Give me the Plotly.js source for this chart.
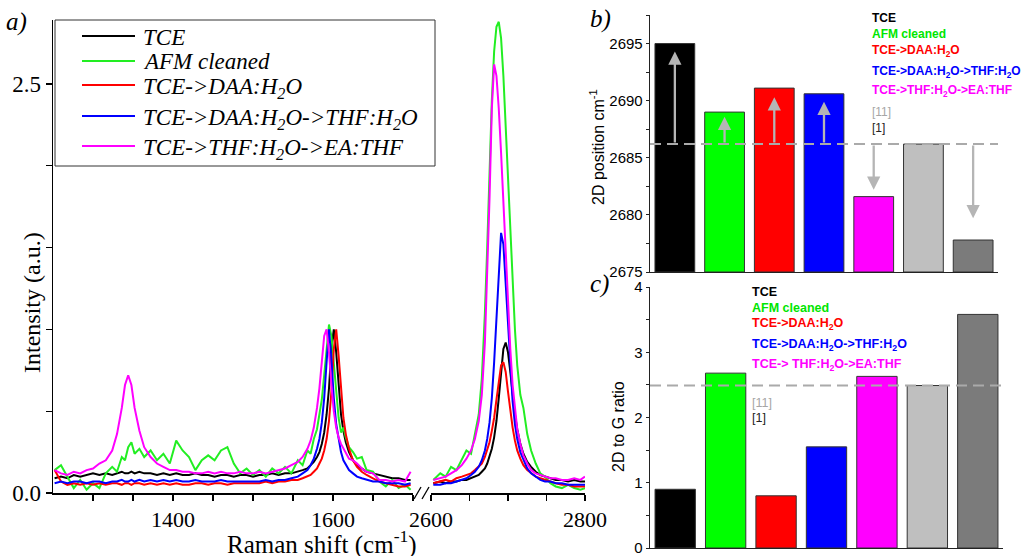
<!DOCTYPE html>
<html>
<head>
<meta charset="utf-8">
<script src="https://cdn.plot.ly/plotly-3.0.1.min.js"></script>
<style>html,body{margin:0;padding:0;background:#fff;}#chart{width:1027px;height:556px;}</style>
</head>
<body>
<div id="chart"></div>
<script>
// ---------------- DATA ----------------
const seriesNames = ['TCE', 'AFM cleaned', 'TCE->DAA:H<sub>2</sub>O',
  'TCE->DAA:H<sub>2</sub>O->THF:H<sub>2</sub>O', 'TCE->THF:H<sub>2</sub>O->EA:THF'];

// Raman shift, low range (D and G band region)
const shiftLow = [1252,1260,1268,1276,1284,1292,1300,1308,1316,1324,
  1330,1336,1340,1344,1348,1352,1358,1364,1372,1380,
  1388,1396,1404,1412,1420,1428,1436,1444,1452,1460,
  1468,1476,1484,1492,1500,1508,1516,1524,1532,1540,
  1548,1556,1562,1568,1572,1576,1580,1583,1586,1589,
  1592,1595,1598,1601,1604,1607,1610,1613,1616,1620,
  1625,1630,1636,1642,1650,1658,1666,1674,1682,1690,1697];

// Raman shift, high range (2D band region)
const shiftHigh = [2603,2612,2619,2626,2633,2640,2646,2652,2657,2662,
  2666,2670,2673,2676,2679,2682,2685,2688,2691,2694,
  2697,2700,2703,2706,2709,2712,2716,2720,2725,2730,
  2736,2742,2748,2755,2762,2770,2778,2786,2794,2800];

const tceLow = [0.09,0.10,0.09,0.11,0.10,0.11,0.12,0.11,0.12,0.11,
  0.12,0.13,0.12,0.12,0.13,0.12,0.13,0.12,0.12,0.11,
  0.12,0.11,0.12,0.11,0.11,0.12,0.11,0.11,0.10,0.11,
  0.11,0.10,0.11,0.11,0.10,0.11,0.11,0.12,0.11,0.12,
  0.12,0.13,0.14,0.15,0.17,0.19,0.22,0.25,0.30,0.37,
  0.48,0.64,0.88,1.00,0.86,0.64,0.48,0.38,0.31,0.25,
  0.20,0.17,0.15,0.13,0.12,0.11,0.10,0.09,0.09,0.08,0.08];
const tceHigh = [0.06,0.07,0.06,0.07,0.07,0.08,0.08,0.09,0.10,0.11,
  0.13,0.15,0.18,0.22,0.27,0.34,0.44,0.58,0.74,0.88,
  0.92,0.86,0.74,0.60,0.48,0.39,0.30,0.24,0.19,0.16,
  0.13,0.11,0.10,0.09,0.08,0.08,0.07,0.08,0.07,0.07];

const afmLow = [0.14,0.17,0.10,0.03,0.08,0.02,0.06,0.03,0.12,0.16,
  0.13,0.22,0.20,0.28,0.31,0.24,0.27,0.22,0.26,0.20,
  0.24,0.18,0.32,0.26,0.22,0.14,0.20,0.23,0.20,0.26,
  0.28,0.18,0.12,0.15,0.11,0.14,0.10,0.15,0.12,0.16,
  0.12,0.20,0.17,0.26,0.24,0.33,0.39,0.47,0.57,0.72,
  0.90,1.03,0.96,0.80,0.62,0.46,0.37,0.40,0.34,0.28,
  0.25,0.21,0.22,0.14,0.13,0.07,0.04,0.08,0.03,0.05,0.02];
const afmHigh = [0.08,0.12,0.10,0.16,0.14,0.20,0.26,0.24,0.36,0.48,
  0.70,1.10,1.50,1.95,2.40,2.70,2.85,2.88,2.78,2.55,
  2.25,1.90,1.58,1.30,1.00,0.78,0.60,0.52,0.36,0.26,
  0.18,0.12,0.10,0.06,0.04,0.03,0.05,0.03,0.02,0.03];

const daaLow = [0.14,0.07,0.05,0.06,0.05,0.06,0.05,0.06,0.05,0.06,
  0.06,0.05,0.06,0.06,0.05,0.06,0.06,0.05,0.06,0.05,
  0.06,0.05,0.06,0.05,0.05,0.06,0.06,0.05,0.06,0.06,
  0.05,0.06,0.06,0.06,0.06,0.06,0.07,0.06,0.07,0.07,
  0.08,0.08,0.09,0.10,0.11,0.13,0.15,0.18,0.21,0.26,
  0.33,0.44,0.62,0.88,1.00,0.84,0.62,0.46,0.36,0.27,
  0.20,0.16,0.13,0.11,0.09,0.07,0.06,0.05,0.04,0.04,0.05];
const daaHigh = [0.06,0.07,0.08,0.07,0.09,0.10,0.11,0.12,0.14,0.16,
  0.18,0.22,0.26,0.31,0.38,0.46,0.57,0.68,0.78,0.80,
  0.74,0.62,0.50,0.40,0.32,0.26,0.21,0.17,0.14,0.12,
  0.10,0.09,0.08,0.07,0.06,0.05,0.05,0.04,0.04,0.04];

const thfLow = [0.06,0.07,0.06,0.07,0.07,0.06,0.07,0.07,0.06,0.07,
  0.07,0.08,0.07,0.07,0.08,0.07,0.08,0.07,0.08,0.07,
  0.08,0.07,0.08,0.07,0.07,0.08,0.07,0.07,0.07,0.08,
  0.07,0.07,0.07,0.07,0.07,0.07,0.08,0.07,0.08,0.08,
  0.09,0.10,0.12,0.14,0.17,0.21,0.27,0.33,0.43,0.58,
  0.80,1.00,0.82,0.58,0.42,0.32,0.25,0.20,0.17,0.14,
  0.12,0.10,0.09,0.08,0.07,0.07,0.06,0.06,0.06,0.05,0.06];
const thfHigh = [0.05,0.05,0.06,0.06,0.07,0.08,0.09,0.11,0.13,0.16,
  0.20,0.26,0.33,0.43,0.58,0.80,1.08,1.40,1.59,1.52,
  1.28,0.98,0.74,0.56,0.42,0.33,0.25,0.20,0.15,0.12,
  0.10,0.08,0.07,0.07,0.06,0.06,0.05,0.05,0.05,0.05];

const eaLow = [0.14,0.12,0.11,0.13,0.12,0.14,0.15,0.18,0.20,0.26,
  0.36,0.52,0.66,0.72,0.66,0.52,0.38,0.28,0.22,0.18,
  0.16,0.14,0.14,0.13,0.13,0.12,0.12,0.13,0.12,0.13,
  0.12,0.12,0.13,0.12,0.12,0.13,0.12,0.13,0.14,0.15,
  0.17,0.19,0.22,0.27,0.32,0.40,0.52,0.64,0.80,0.96,
  1.00,0.86,0.66,0.50,0.40,0.34,0.30,0.27,0.24,0.21,
  0.20,0.18,0.15,0.13,0.12,0.08,0.08,0.07,0.08,0.07,0.13];
const eaHigh = [0.08,0.09,0.10,0.12,0.14,0.17,0.21,0.26,0.33,0.44,
  0.60,0.92,1.30,1.80,2.35,2.62,2.55,2.35,2.08,1.78,
  1.45,1.15,0.88,0.66,0.50,0.39,0.30,0.23,0.18,0.14,
  0.12,0.11,0.10,0.09,0.09,0.08,0.08,0.09,0.08,0.10];

const lowTicks = [1400, 1600];
const lowTickText = ['1400', '1600'];
const lowMinorTicks = [1300, 1350, 1450, 1500, 1550, 1650, 1700];
const highTicks = [2600, 2800];
const highTickText = ['2600', '2800'];
const highMinorTicks = [2650, 2700, 2750];
const intTicks = [0, 2.5];
const intTickText = ['0.0', '2.5'];
const intMinorTicks = [0.5, 1, 1.5, 2];

// Bar panels
const barLabels = ['TCE','AFM cleaned','TCE->DAA:H2O','TCE->DAA:H2O->THF:H2O','TCE->THF:H2O->EA:THF','[11]','[1]'];
const pos2D = [2695.0, 2689.0, 2691.1, 2690.6, 2681.6, 2686.2, 2677.8];
const ratio2DG = [0.90, 2.68, 0.80, 1.55, 2.63, 2.49, 3.58];
const refIndex = 5;
const posTicks = [2675, 2680, 2685, 2690, 2695];
const ratioTicks = [0, 1, 2, 3, 4];
const legendB = ['TCE','AFM cleaned','TCE->DAA:H<sub>2</sub>O','TCE->DAA:H<sub>2</sub>O->THF:H<sub>2</sub>O','TCE->THF:H<sub>2</sub>O->EA:THF','[11]','[1]'];
const legendC = ['TCE','AFM cleaned','TCE->DAA:H<sub>2</sub>O','TCE->DAA:H<sub>2</sub>O->THF:H<sub>2</sub>O','TCE-> THF:H<sub>2</sub>O->EA:THF','[11]','[1]'];

// ---------------- STYLE ----------------
const W = 1027, H = 556;
const px = v => v / W;
const py = v => 1 - v / H;
const lineColors = ['#000000', '#22ee22', '#ff0000', '#0000ff', '#ff00ff'];
const barColors = ['#000000', '#00ff00', '#ff0000', '#0000ff', '#ff00ff', '#bfbfbf', '#7b7b7b'];
const textColors = ['#000000', '#00e600', '#ff0000', '#0000ff', '#ff00ff', '#a6a6a6', '#222222'];
const serif = 'Liberation Serif, Times New Roman, serif';
const sans = 'Liberation Sans, Arial, sans-serif';

const lowSets = [tceLow, afmLow, daaLow, thfLow, eaLow];
const highSets = [tceHigh, afmHigh, daaHigh, thfHigh, eaHigh];

const traces = [];
[0,1,2,3,4].forEach(i => {
  traces.push({
    type: 'scatter', mode: 'lines', x: shiftLow, y: lowSets[i],
    xaxis: 'x', yaxis: 'y', name: seriesNames[i],
    line: {color: lineColors[i], width: 2}, hoverinfo: 'skip'
  });
  traces.push({
    type: 'scatter', mode: 'lines', x: shiftHigh, y: highSets[i],
    xaxis: 'x2', yaxis: 'y', name: seriesNames[i],
    line: {color: lineColors[i], width: 2}, hoverinfo: 'skip'
  });
});

traces.push({
  type: 'bar', x: barLabels, y: pos2D.map(v => v - 2675), base: 2675,
  xaxis: 'x3', yaxis: 'y3', width: 0.8,
  marker: {color: barColors, line: {color: '#333333', width: 1}}
});
traces.push({
  type: 'bar', x: barLabels, y: ratio2DG,
  xaxis: 'x4', yaxis: 'y4', width: 0.8,
  marker: {color: barColors, line: {color: '#333333', width: 1}}
});

const axLine = {showline: true, linecolor: '#000', linewidth: 1.5, showgrid: false, zeroline: false,
  ticks: 'outside', ticklen: 6, tickwidth: 1.3, tickcolor: '#000', ticklabeloverflow: 'allow'};
const minorA = {ticks: 'outside', ticklen: 6, tickwidth: 1.3, tickcolor: '#000'};

const annotations = [];
const shapes = [];

// Panel labels
[['a)', 4, 22], ['b)', 588, 19], ['c)', 588, 284]].forEach(([t, x, y]) => {
  annotations.push({xref:'paper', yref:'paper', x:px(x), y:py(y), xanchor:'left', yanchor:'middle',
    text:t, showarrow:false, font:{family:serif, size:25, style:'italic', color:'#000'}});
});
// Axis titles
annotations.push({xref:'paper', yref:'paper', x:px(32), y:py(303), xanchor:'center', yanchor:'middle', textangle:-90,
  text:'Intensity (a.u.)', showarrow:false, font:{family:serif, size:24, color:'#000'}});
annotations.push({xref:'paper', yref:'paper', x:px(322), y:py(542), xanchor:'center', yanchor:'middle',
  text:'Raman shift (cm<sup>-1</sup>)', showarrow:false, font:{family:serif, size:25, color:'#000'}});
annotations.push({xref:'paper', yref:'paper', x:px(597), y:py(147), xanchor:'center', yanchor:'middle', textangle:-90,
  text:'2D position cm<sup>-1</sup>', showarrow:false, font:{family:sans, size:16, color:'#000'}});
annotations.push({xref:'paper', yref:'paper', x:px(618), y:py(427), xanchor:'center', yanchor:'middle', textangle:-90,
  text:'2D to G ratio', showarrow:false, font:{family:sans, size:16, color:'#000'}});

// Legend of panel a (boxed)
shapes.push({type:'rect', xref:'paper', yref:'paper', x0:px(55), x1:px(435), y0:py(20), y1:py(166),
  line:{color:'#333', width:1}, fillcolor:'#ffffff', layer:'above'});
const legLineY = [36, 61, 85, 116, 146];
const legTextY = [37, 62, 88, 119, 149];
seriesNames.forEach((t, i) => {
  shapes.push({type:'line', xref:'paper', yref:'paper', x0:px(82), x1:px(135), y0:py(legLineY[i]), y1:py(legLineY[i]),
    line:{color:lineColors[i], width:2}, layer:'above'});
  annotations.push({xref:'paper', yref:'paper', x:px(141), y:py(legTextY[i]), xanchor:'left', yanchor:'middle',
    text:t, showarrow:false, font:{family:serif, size:23, style:'italic', color:'#000'}});
});

// Text legends in b and c
const legBY = [18, 34, 51, 72, 91, 112, 128];
const legCY = [292, 308, 324, 345, 365, 403, 418];
legendB.forEach((t, i) => {
  annotations.push({xref:'paper', yref:'paper', x:px(870), y:py(legBY[i]), xanchor:'left', yanchor:'middle',
    text:t, showarrow:false, font:{family:sans, size:12, weight: i < 5 ? 700 : 400, color:textColors[i]}});
});
legendC.forEach((t, i) => {
  annotations.push({xref:'paper', yref:'paper', x:px(750), y:py(legCY[i]), xanchor:'left', yanchor:'middle',
    text:t, showarrow:false, font:{family:sans, size:12.5, weight: i < 5 ? 700 : 400, color:textColors[i]}});
});

// Arrows in panel b (from reference line to each bar)
const arrowBars = [0, 1, 2, 3, 4, 6];
const tipGap = [0.7, 0.4, 0.8, 0.7, 0.6, 0, 1.9];
arrowBars.forEach(i => {
  const ref = pos2D[refIndex];
  const up = pos2D[i] > ref;
  const tip = up ? pos2D[i] - tipGap[i] : pos2D[i] + tipGap[i];
  annotations.push({xref:'x3', yref:'y3', axref:'x3', ayref:'y3', x:i, y:tip, ax:i, ay:ref,
    text:'', showarrow:true, arrowhead:2, arrowsize:1.15, arrowwidth:2.3, arrowcolor:'#b5b5b5', standoff:0});
});

shapes.push(
  {type:'line', xref:'x3 domain', x0:0, x1:1, yref:'y3', y0:pos2D[refIndex], y1:pos2D[refIndex],
   line:{color:'#aaaaaa', width:2, dash:'11px,6px'}},
  {type:'line', xref:'x4 domain', x0:0, x1:1, yref:'y4', y0:ratio2DG[refIndex], y1:ratio2DG[refIndex],
   line:{color:'#aaaaaa', width:2, dash:'11px,6px'}},
  // axis break marks
  {type:'line', xref:'paper', yref:'paper', x0:px(414), y0:py(499), x1:px(421), y1:py(487), line:{color:'#000', width:1.3}},
  {type:'line', xref:'paper', yref:'paper', x0:px(422), y0:py(499), x1:px(429), y1:py(487), line:{color:'#000', width:1.3}}
);

const layout = {
  width: W, height: H,
  margin: {l:0, r:0, t:0, b:0},
  paper_bgcolor: '#ffffff', plot_bgcolor: 'rgba(0,0,0,0)',
  showlegend: false,
  xaxis: Object.assign({}, axLine, {domain:[px(53), px(413)], range:[1250, 1700], anchor:'y',
    tickvals: lowTicks, ticktext: lowTickText, minor: Object.assign({tickvals: lowMinorTicks}, minorA),
    tickfont:{family:serif, size:22, color:'#000'}}),
  xaxis2: Object.assign({}, axLine, {domain:[px(431), px(585)], range:[2600, 2800], anchor:'y',
    tickvals: highTicks, ticktext: highTickText, minor: Object.assign({tickvals: highMinorTicks}, minorA),
    tickfont:{family:serif, size:22, color:'#000'}}),
  yaxis: Object.assign({}, axLine, {domain:[1 - 493/H, 1 - 20/H], range:[0, 2.891], anchor:'x',
    tickvals: intTicks, ticktext: intTickText, minor: Object.assign({tickvals: intMinorTicks}, minorA),
    tickfont:{family:serif, size:23, color:'#000'}}),
  xaxis3: {domain:[px(650), px(998)], anchor:'y3', type:'category', range:[-0.5, 6.5],
    showline:true, linecolor:'#222', linewidth:1.3, showticklabels:false, ticks:'', showgrid:false, zeroline:false},
  yaxis3: {domain:[1 - 272/H, 1 - 15/H], anchor:'x3', range:[2675, 2697.5],
    showline:true, linecolor:'#222', linewidth:1.3, showgrid:false, zeroline:false, ticklabeloverflow:'allow',
    tickvals:posTicks, ticks:'outside', ticklen:3, tickcolor:'#222',
    minor:{dtick:2.5, tick0:2675, ticks:'outside', ticklen:3, tickcolor:'#222'},
    tickfont:{family:sans, size:15, color:'#000'}},
  xaxis4: {domain:[px(650), px(1003)], anchor:'y4', type:'category', range:[-0.5, 6.5],
    showline:true, linecolor:'#222', linewidth:1.3, showticklabels:false, ticks:'', showgrid:false, zeroline:false},
  yaxis4: {domain:[1 - 548/H, 1 - 287/H], anchor:'x4', range:[0, 4],
    showline:true, linecolor:'#222', linewidth:1.3, showgrid:false, zeroline:false, ticklabeloverflow:'allow',
    tickvals:ratioTicks, ticks:'outside', ticklen:3, tickcolor:'#222',
    minor:{dtick:0.5, tick0:0, ticks:'outside', ticklen:3, tickcolor:'#222'},
    tickfont:{family:sans, size:15, color:'#000'}},
  annotations: annotations,
  shapes: shapes
};

Plotly.newPlot('chart', traces, layout, {displayModeBar:false, staticPlot:true});
</script>
</body>
</html>
